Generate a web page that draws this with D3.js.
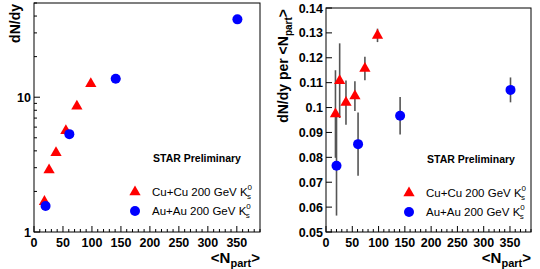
<!DOCTYPE html>
<html>
<head>
<meta charset="utf-8">
<script src="https://cdn.jsdelivr.net/npm/d3@7"></script>
<style>
  body { margin: 0; background: #fff; }
  svg { font-family: "Liberation Sans", Arial, sans-serif; }
</style>
</head>
<body>
<div id="chart"></div>
<script>
// data
var cuNpart = [18, 26, 38, 55, 74, 98];
var auNpart = [20, 61, 141, 351];
var auNpartErr = [4, 6, 8, 6];

var cuDndy = [1.68, 2.88, 3.87, 5.63, 8.58, 12.6];
var auDndy = [1.56, 5.32, 13.7, 37.8];
var cuDndyErr = [0.05, 0.1, 0.1, 0.15, 0.2, 0.3];
var auDndyErr = [0.08, 0.2, 0.4, 0.8];

var cuRatio = [0.0974, 0.1108, 0.1020, 0.1046, 0.1157, 0.1290];
var cuRatioErr = [0.0176, 0.015, 0.0089, 0.006, 0.0047, 0.0027];
var auRatio = [0.0766, 0.0853, 0.0967, 0.1071];
var auRatioErr = [0.020, 0.0127, 0.0075, 0.005];

var xTicks = [0, 50, 100, 150, 200, 250, 300, 350];
var ratioTicks = [0.05, 0.06, 0.07, 0.08, 0.09, 0.1, 0.11, 0.12, 0.13, 0.14];
var legendLabels = ["Cu+Cu 200 GeV K", "Au+Au 200 GeV K"];

var svg = d3.select("#chart").append("svg")
    .attr("width", 540)
    .attr("height", 269)

function drawPanel(p) {
    var g = svg.append("g")
    var x = d3.scaleLinear().domain([0, 390]).range([p.left, p.right])
    var y = p.y

    // frame
    g.append("rect")
        .attr("x", p.left).attr("y", p.top)
        .attr("width", p.right - p.left).attr("height", p.bottom - p.top)
        .attr("fill", "none").attr("stroke", "#000").attr("stroke-width", 1)

    // x ticks (inside)
    var minor = d3.range(0, 391, 10)
    g.selectAll(".xt").data(minor).enter().append("line")
        .attr("x1", function(d) { return x(d) }).attr("x2", function(d) { return x(d) })
        .attr("y1", p.bottom)
        .attr("y2", function(d) { return p.bottom - (d % 50 == 0 ? 6 : 3) })
        .attr("stroke", "#000")
    g.selectAll(".xl").data(xTicks).enter().append("text")
        .attr("x", function(d) { return x(d) }).attr("y", p.bottom + 15)
        .attr("text-anchor", "middle").attr("font-weight", "bold").attr("font-size", 12.5)
        .text(function(d) { return d })

    // y ticks
    g.selectAll(".yt").data(p.yMinor).enter().append("line")
        .attr("x1", p.left).attr("x2", function(d) { return p.left + 3 })
        .attr("y1", function(d) { return y(d) }).attr("y2", function(d) { return y(d) })
        .attr("stroke", "#000")
    g.selectAll(".ytm").data(p.yMajor).enter().append("line")
        .attr("x1", p.left).attr("x2", p.left + 6)
        .attr("y1", function(d) { return y(d) }).attr("y2", function(d) { return y(d) })
        .attr("stroke", "#000")
    g.selectAll(".yl").data(p.yMajor).enter().append("text")
        .attr("x", p.left - 3).attr("y", function(d) { return y(d) + 4.5 })
        .attr("text-anchor", "end").attr("font-weight", "bold").attr("font-size", 12.5)
        .text(p.yFormat)

    // x title
    var xt = g.append("text")
        .attr("x", p.right).attr("y", p.bottom + 31)
        .attr("text-anchor", "end").attr("font-weight", "bold").attr("font-size", 15)
    xt.append("tspan").text("<N")
    xt.append("tspan").attr("dy", 4).attr("font-size", 11).text("part")
    xt.append("tspan").attr("dy", -4).text(">")

    // y title
    var yt = g.append("text")
        .attr("transform", "translate(" + p.yTitleX + "," + (p.top + 1) + ") rotate(-90)")
        .attr("text-anchor", "end").attr("font-weight", "bold").attr("font-size", 14)
    p.yTitle(yt)

    // error bars
    function errs(xs, vs, es, xe) {
        xs.forEach(function(n, i) {
            g.append("line")
                .attr("x1", x(n)).attr("x2", x(n))
                .attr("y1", y(vs[i] - es[i])).attr("y2", y(vs[i] + es[i]))
                .attr("stroke", "#555").attr("stroke-width", 1.6)
            if (xe) {
                g.append("line")
                    .attr("x1", x(n - xe[i])).attr("x2", x(n + xe[i]))
                    .attr("y1", y(vs[i])).attr("y2", y(vs[i]))
                    .attr("stroke", "#222").attr("stroke-width", 1.4)
            }
        })
    }
    errs(auNpart, p.au, p.auErr, auNpartErr)
    errs(cuNpart, p.cu, p.cuErr, null)

    var tri = d3.symbol().type(d3.symbolTriangle).size(55)
    g.selectAll(".cu").data(cuNpart).enter().append("path")
        .attr("d", tri)
        .attr("transform", function(d, i) { return "translate(" + x(d) + "," + y(p.cu[i]) + ")" })
        .attr("fill", "#f00")
    g.selectAll(".au").data(auNpart).enter().append("circle")
        .attr("cx", function(d) { return x(d) })
        .attr("cy", function(d, i) { return y(p.au[i]) })
        .attr("r", 5)
        .attr("fill", "#00f")

    // legend
    var lx = p.legX, ly = p.legY
    g.append("text").attr("x", lx + 18).attr("y", ly)
        .attr("font-weight", "bold").attr("font-size", 10.5).text("STAR Preliminary")
    legendLabels.forEach(function(lab, i) {
        var yy = ly + 34 + i * 19
        if (i == 0) {
            g.append("path").attr("d", tri)
                .attr("transform", "translate(" + lx + "," + (yy - 4) + ")").attr("fill", "#f00")
        } else {
            g.append("circle").attr("cx", lx).attr("cy", yy - 4).attr("r", 5).attr("fill", "#00f")
        }
        var t = g.append("text").attr("x", lx + 17).attr("y", yy).attr("font-size", 11.5)
        t.append("tspan").text(lab)
        t.append("tspan").attr("dy", -6).attr("font-size", 8).text("0")
        t.append("tspan").attr("dx", -5).attr("dy", 9).attr("font-size", 8).text("s")
    })
}

// left panel: dN/dy, log scale
var yLog = d3.scaleLog().domain([1, 50]).range([232, 3])
var logMinor = [2, 3, 4, 5, 6, 7, 8, 9, 20, 30, 40, 50]
drawPanel({
    left: 34, right: 260, top: 3, bottom: 232,
    y: yLog, yMajor: [1, 10], yMinor: logMinor,
    yFormat: function(d) { return d },
    yTitleX: 20,
    yTitle: function(t) { t.text("dN/dy") },
    cu: cuDndy, cuErr: cuDndyErr, au: auDndy, auErr: auDndyErr,
    legX: 135, legY: 162
})

// right panel: dN/dy per Npart
var yLin = d3.scaleLinear().domain([0.05, 0.14]).range([232, 8])
drawPanel({
    left: 326, right: 531, top: 8, bottom: 232,
    y: yLin, yMajor: ratioTicks, yMinor: [],
    yFormat: function(d) { return d == 0.1 ? "0.1" : d3.format(".2f")(d) },
    yTitleX: 288,
    yTitle: function(t) {
        t.append("tspan").text("dN/dy per <N")
        t.append("tspan").attr("dy", 4).attr("font-size", 10).text("part")
        t.append("tspan").attr("dy", -4).text(">")
    },
    cu: cuRatio, cuErr: cuRatioErr, au: auRatio, auErr: auRatioErr,
    legX: 409, legY: 163
})
</script>
</body>
</html>
